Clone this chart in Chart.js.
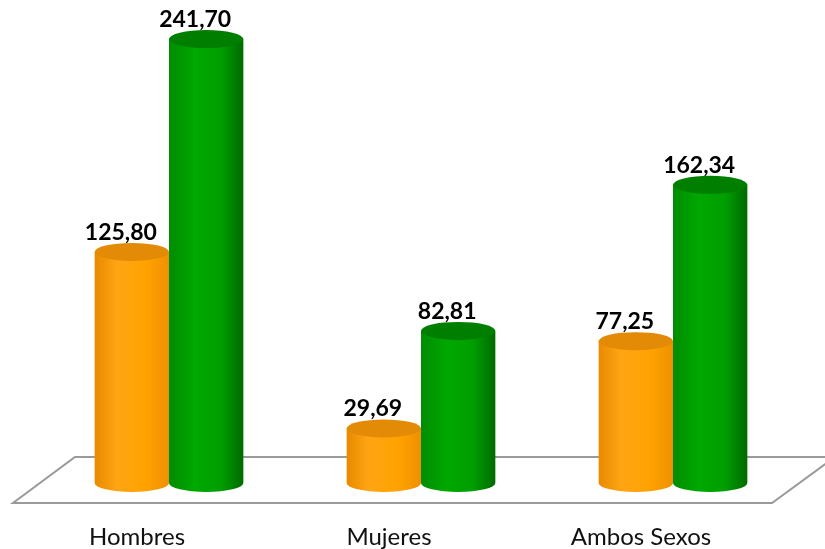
<!DOCTYPE html>
<html>
<head>
<meta charset="utf-8">
<script src="https://cdn.jsdelivr.net/npm/chart.js@4/dist/chart.umd.min.js"></script>
<style>
  html, body { margin: 0; padding: 0; background: #fff; }
  #wrap { width: 825px; height: 549px; position: relative; }
</style>
</head>
<body>
<div id="wrap"><canvas id="chart"></canvas></div>
<script>
// data
const categories = ["Hombres", "Mujeres", "Ambos Sexos"];
const seriesA = [125.80, 29.69, 77.25];   // orange
const seriesB = [241.70, 82.81, 162.34];  // green

// colour stops for the cylinder bodies
const orangeStops = [[0, "#e88a00"], [0.3, "#ffa514"], [0.7, "#ffa200"], [1, "#ef9000"]];
const greenStops  = [[0, "#008c00"], [0.35, "#00a800"], [0.7, "#009e00"], [1, "#006a00"]];
const orangeTop = "#e38a06";
const greenTop  = "#007e00";

const RY = 9;

function fmt(v) {
  return v.toFixed(2).replace(".", ",");
}

// ------------------------------------------------------------
// floor (grey parallelogram under the bars)
// ------------------------------------------------------------
const floorPlugin = {
  id: "floor",
  beforeDatasetsDraw(chart) {
    const ctx = chart.ctx;
    const area = chart.chartArea;
    const base = chart.scales.y.getPixelForValue(0);
    const back = base - 26;
    const front = base + 20;
    ctx.save();
    ctx.beginPath();
    ctx.moveTo(area.left + 32, back);
    ctx.lineTo(area.right + 36, back);
    ctx.lineTo(area.right - 27, front);
    ctx.lineTo(area.left - 30, front);
    ctx.closePath();
    ctx.fillStyle = "#ffffff";
    ctx.fill();
    ctx.lineWidth = 2;
    ctx.strokeStyle = "#9a9a9a";
    ctx.stroke();
    ctx.restore();
  }
};

// ------------------------------------------------------------
// cylinders drawn from the bar elements
// ------------------------------------------------------------
const cylinderPlugin = {
  id: "cylinder",
  beforeDatasetDraw() {
    return false; // skip the flat bars, drawn below instead
  },
  afterDatasetsDraw(chart) {
    const ctx = chart.ctx;
    chart.data.datasets.forEach((ds, di) => {
      const meta = chart.getDatasetMeta(di);
      const stops = di === 0 ? orangeStops : greenStops;
      const top = di === 0 ? orangeTop : greenTop;
      meta.data.forEach((bar, i) => {
        const w = bar.width;
        const rx = w / 2;
        const x = bar.x, y = bar.y, base = bar.base;

        const g = ctx.createLinearGradient(x - rx, 0, x + rx, 0);
        stops.forEach(s => g.addColorStop(s[0], s[1]));

        ctx.save();
        ctx.beginPath();
        ctx.moveTo(x - rx, y);
        ctx.lineTo(x - rx, base);
        ctx.ellipse(x, base, rx, RY, 0, Math.PI, 0, true);
        ctx.lineTo(x + rx, y);
        ctx.closePath();
        ctx.fillStyle = g;
        ctx.fill();

        ctx.beginPath();
        ctx.ellipse(x, y, rx, RY, 0, 0, Math.PI * 2);
        ctx.fillStyle = top;
        ctx.fill();

        // value label
        ctx.font = "bold 23px Lato, 'Open Sans', sans-serif";
        ctx.fillStyle = "#000";
        ctx.textAlign = "center";
        ctx.textBaseline = "alphabetic";
        ctx.fillText(fmt(ds.data[i]), x - 11, y - RY - 3);
        ctx.restore();
      });
    });
  }
};

new Chart(document.getElementById("chart"), {
  type: "bar",
  data: {
    labels: categories,
    datasets: [
      { label: "A", data: seriesA, backgroundColor: "#ffa200" },
      { label: "B", data: seriesB, backgroundColor: "#00a000" }
    ]
  },
  options: {
    responsive: true,
    maintainAspectRatio: false,
    animation: false,
    layout: { padding: { left: 43, right: 26, top: 0, bottom: 0 } },
    plugins: {
      legend: { display: false },
      tooltip: { enabled: false }
    },
    datasets: {
      bar: { barPercentage: 1, categoryPercentage: 0.59 }
    },
    scales: {
      y: { display: false, min: 0, max: 263 },
      x: {
        grid: { display: false, drawTicks: true, tickLength: 43.2 },
        border: { display: false },
        ticks: {
          padding: 0,
          labelOffset: -32,
          color: "#111",
          font: { family: "Lato, 'Open Sans', sans-serif", size: 24, lineHeight: 0.95 }
        }
      }
    }
  },
  plugins: [floorPlugin, cylinderPlugin]
});
</script>
</body>
</html>
